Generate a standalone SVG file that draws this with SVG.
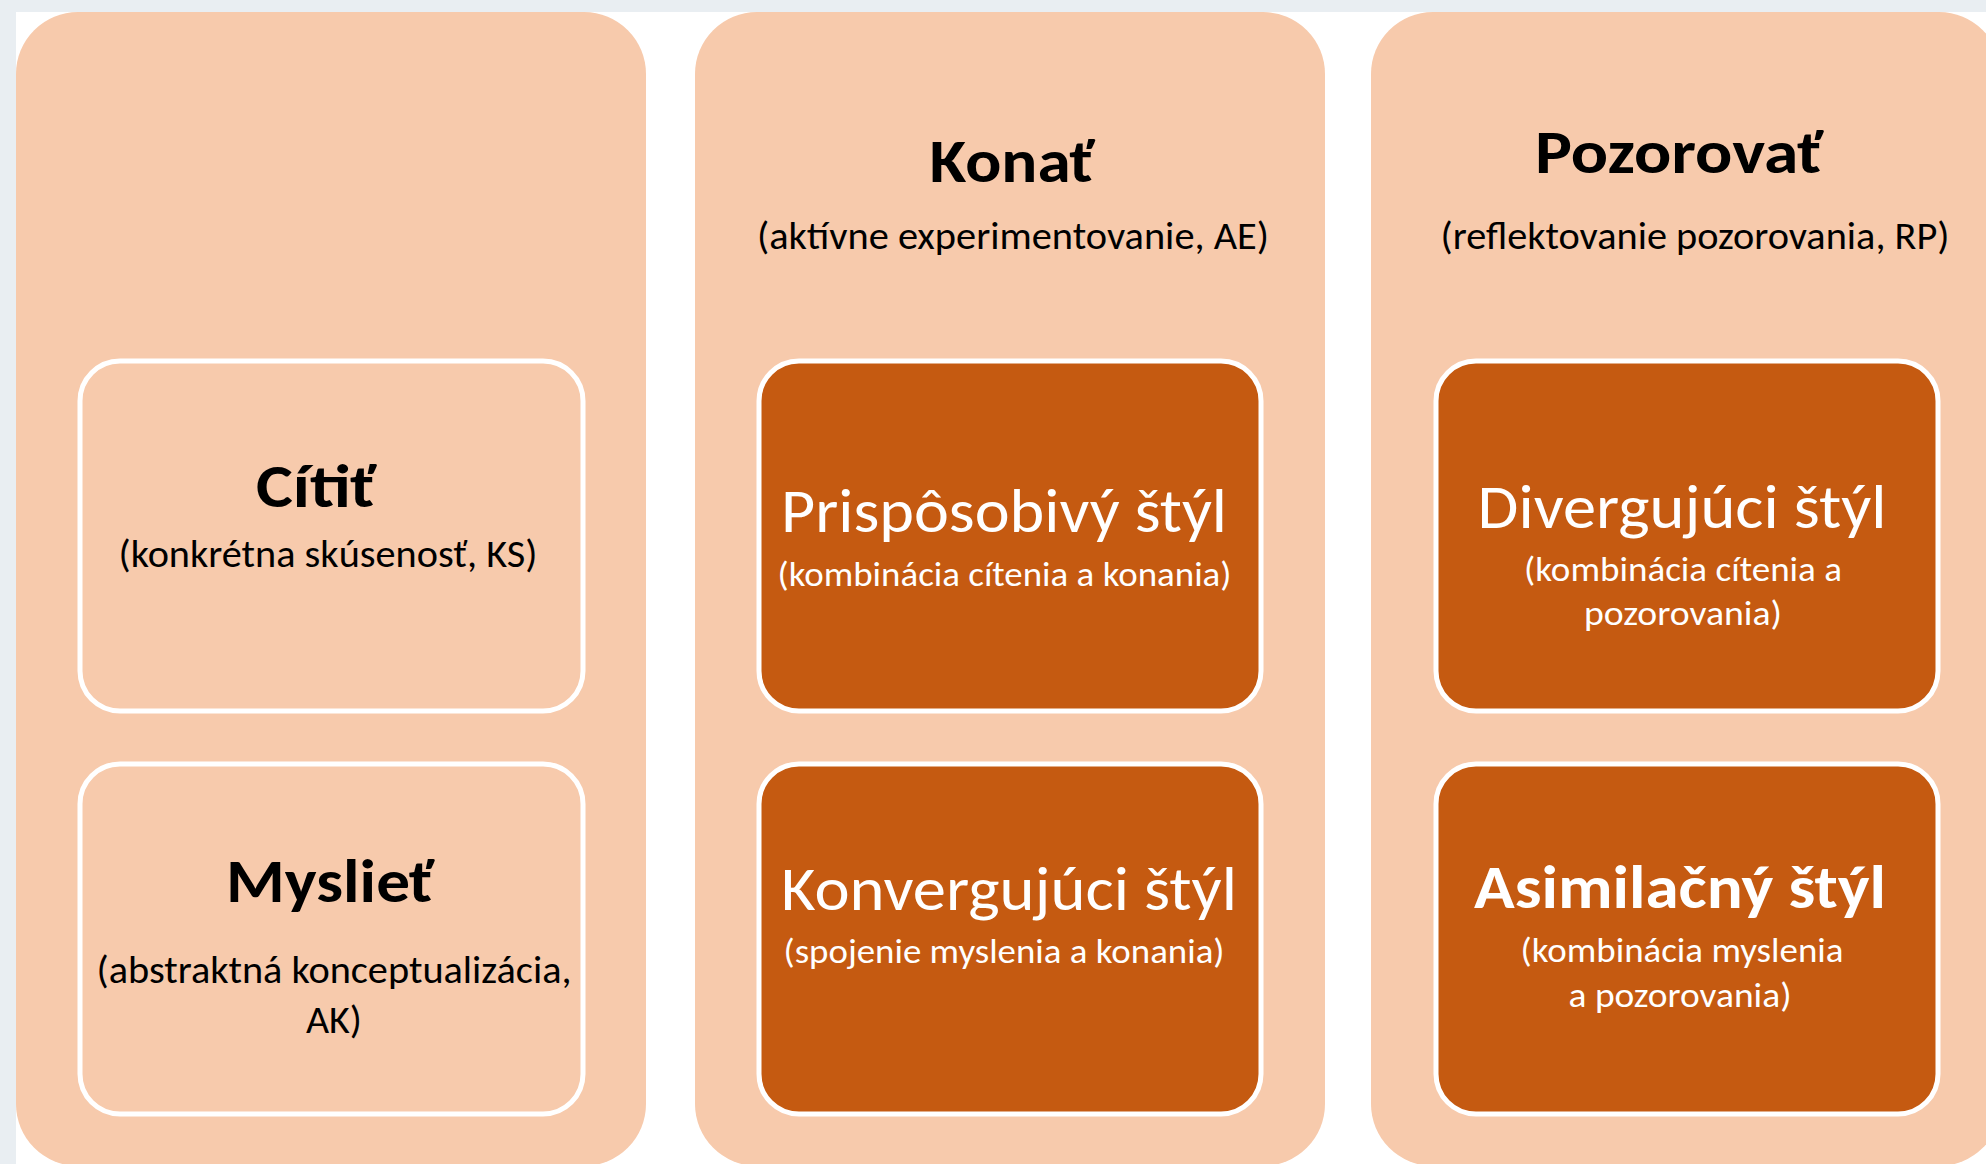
<svg xmlns="http://www.w3.org/2000/svg" width="1986" height="1164" viewBox="0 0 1986 1164">
  <style>
    .col { fill: #F7CAAC; }
    .box { stroke: #FFFFFF; stroke-width: 5; }
    .light { fill: #F7CAAC; }
    .dark { fill: #C55A11; }
    text { font-family: Carlito, Calibri, Lato, "Open Sans", sans-serif; text-anchor: middle; }
    .tb { font-weight: bold; font-size: 61px; fill: #000000; }
    .tbw { font-weight: bold; font-size: 61px; fill: #FFFFFF; }
    .tw { font-size: 61px; fill: #FFFFFF; }
    .sub { font-size: 38px; fill: #000000; }
    .subw { font-size: 35px; fill: #FFFFFF; }
  </style>
  <rect x="0" y="0" width="1986" height="1164" fill="#FFFFFF"/>
  <rect x="0" y="0" width="1986" height="12" fill="#E9EEF2"/>
  <rect x="0" y="0" width="16" height="1164" fill="#E9EEF2"/>

  <g id="column-1">
    <rect class="col" x="16" y="12" width="630" height="1154" rx="62" ry="62"/>
  </g>
  <g id="column-2">
    <rect class="col" x="695" y="12" width="630" height="1154" rx="62" ry="62"/>
    <text class="tb" x="1012" y="182" textLength="165" lengthAdjust="spacingAndGlyphs">Konať</text>
    <text class="sub" x="1013" y="249" textLength="512" lengthAdjust="spacingAndGlyphs">(aktívne experimentovanie, AE)</text>
  </g>
  <g id="column-3">
    <rect class="col" x="1371" y="12" width="630" height="1154" rx="62" ry="62"/>
    <text class="tb" x="1679" y="173" textLength="288" lengthAdjust="spacingAndGlyphs">Pozorovať</text>
    <text class="sub" x="1695" y="249" textLength="509" lengthAdjust="spacingAndGlyphs">(reflektovanie pozorovania, RP)</text>
  </g>

  <g id="citit">
    <rect class="box light" x="80" y="361" width="503" height="350" rx="40" ry="40"/>
    <text class="tb" x="316" y="507" textLength="120" lengthAdjust="spacingAndGlyphs">Cítiť</text>
    <text class="sub" x="328" y="567" textLength="419" lengthAdjust="spacingAndGlyphs">(konkrétna skúsenosť, KS)</text>
  </g>
  <g id="mysliet">
    <rect class="box light" x="80" y="764" width="503" height="350" rx="40" ry="40"/>
    <text class="tb" x="330" y="902" textLength="208" lengthAdjust="spacingAndGlyphs">Myslieť</text>
    <text class="sub" x="334" y="983" textLength="475" lengthAdjust="spacingAndGlyphs">(abstraktná konceptualizácia,</text>
    <text class="sub" x="334" y="1033" textLength="56" lengthAdjust="spacingAndGlyphs">AK)</text>
  </g>
  <g id="prisposobivy">
    <rect class="box dark" x="759" y="361" width="502" height="350" rx="40" ry="40"/>
    <text class="tw" x="1004" y="532" textLength="446" lengthAdjust="spacingAndGlyphs">Prispôsobivý štýl</text>
    <text class="subw" x="1004.5" y="586" textLength="454" lengthAdjust="spacingAndGlyphs">(kombinácia cítenia a konania)</text>
  </g>
  <g id="konvergujuci">
    <rect class="box dark" x="759" y="764" width="502" height="350" rx="40" ry="40"/>
    <text class="tw" x="1009" y="910" textLength="456" lengthAdjust="spacingAndGlyphs">Konvergujúci štýl</text>
    <text class="subw" x="1004" y="963" textLength="441" lengthAdjust="spacingAndGlyphs">(spojenie myslenia a konania)</text>
  </g>
  <g id="divergujuci">
    <rect class="box dark" x="1436" y="361" width="502" height="350" rx="40" ry="40"/>
    <text class="tw" x="1682" y="528" textLength="409" lengthAdjust="spacingAndGlyphs">Divergujúci štýl</text>
    <text class="subw" x="1683" y="581" textLength="318" lengthAdjust="spacingAndGlyphs">(kombinácia cítenia a</text>
    <text class="subw" x="1683" y="625" textLength="198" lengthAdjust="spacingAndGlyphs">pozorovania)</text>
  </g>
  <g id="asimilacny">
    <rect class="box dark" x="1436" y="764" width="502" height="350" rx="40" ry="40"/>
    <text class="tbw" x="1680" y="908" textLength="412" lengthAdjust="spacingAndGlyphs">Asimilačný štýl</text>
    <text class="subw" x="1682" y="962" textLength="323" lengthAdjust="spacingAndGlyphs">(kombinácia myslenia</text>
    <text class="subw" x="1680" y="1007" textLength="223" lengthAdjust="spacingAndGlyphs">a pozorovania)</text>
  </g>
</svg>
